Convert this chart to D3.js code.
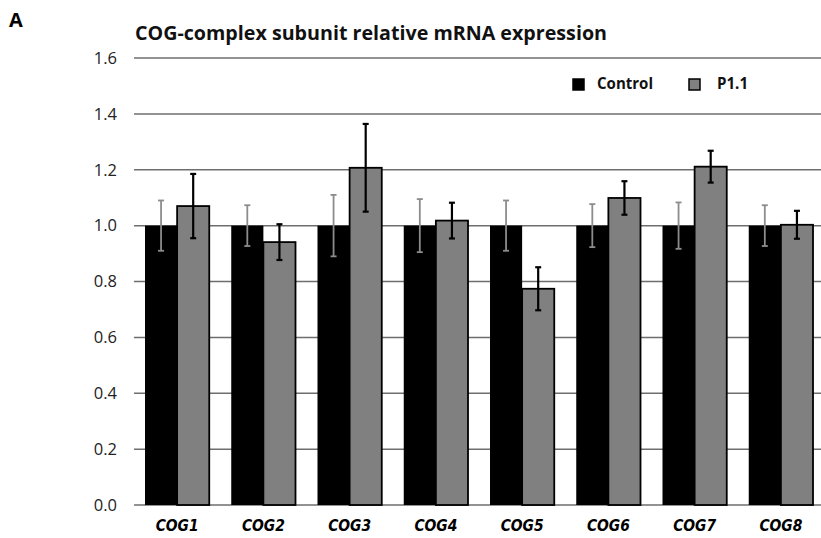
<!DOCTYPE html>
<html>
<head>
<meta charset="utf-8">
<script src="https://cdn.jsdelivr.net/npm/d3@7"></script>
<style>
  body { margin: 0; background: #fff; }
  svg { display: block; }
</style>
</head>
<body>
<div id="chart"></div>
<script>
// Data
const genes = ['COG1', 'COG2', 'COG3', 'COG4', 'COG5', 'COG6', 'COG7', 'COG8'];
const series = ['Control', 'P1.1'];
const controlValues = [1, 1, 1, 1, 1, 1, 1, 1];
const controlErrors = [0.09, 0.073, 0.11, 0.095, 0.09, 0.077, 0.083, 0.073];
const p11Values = [1.07, 0.941, 1.207, 1.018, 0.774, 1.099, 1.211, 1.003];
const p11Errors = [0.115, 0.064, 0.157, 0.064, 0.077, 0.06, 0.057, 0.05];
const yTicks = [0, 0.2, 0.4, 0.6, 0.8, 1.0, 1.2, 1.4, 1.6];

const width = 821,
	height = 538,
	margin = {left: 134, right: -3, top: 58, bottom: 33};

const colors = {'Control': '#000000', 'P1.1': '#808080'};
const errColors = {'Control': '#8c8c8c', 'P1.1': '#000000'};

const rows = genes.map((g, i) => ({
	gene: g,
	vals: [
		{key: 'Control', value: controlValues[i], err: controlErrors[i]},
		{key: 'P1.1', value: p11Values[i], err: p11Errors[i]}
	]
}));

const svg = d3.select('#chart').append('svg')
	.attr('width', width)
	.attr('height', height);

const x0 = d3.scaleBand()
	.domain(genes)
	.range([margin.left, width - margin.right])
	.paddingInner(0.255)
	.paddingOuter(0.1275);

const x1 = d3.scaleBand()
	.domain(series)
	.range([0, x0.bandwidth()]);

const y = d3.scaleLinear()
	.domain([0, 1.6])
	.range([height - margin.bottom, margin.top]);

// Panel letter + title
svg.append('text')
	.attr('x', 9).attr('y', 27)
	.style('font-family', 'Open Sans').style('font-weight', 'bold').style('font-size', '20px')
	.text('A');

svg.append('text')
	.attr('x', 135).attr('y', 40)
	.attr('textLength', 472)
	.attr('lengthAdjust', 'spacingAndGlyphs')
	.style('font-family', 'Open Sans').style('font-weight', 'bold').style('font-size', '19.5px')
	.style('fill', '#111')
	.text('COG-complex subunit relative mRNA expression');

// Gridlines (horizontal, gray)
svg.append('g')
	.selectAll('line')
	.data(yTicks)
	.join('line')
	.attr('x1', margin.left).attr('x2', width)
	.attr('y1', d => y(d)).attr('y2', d => y(d))
	.style('stroke', '#6e6e6e')
	.style('stroke-width', 1.5);

// Y axis labels
const yAxis = d3.axisLeft(y)
	.tickValues(yTicks)
	.tickFormat(d3.format('.1f'))
	.tickSize(0)
	.tickPadding(17);

const ya = svg.append('g')
	.attr('transform', 'translate(' + margin.left + ',0)')
	.call(yAxis);
ya.select('.domain').remove();
ya.selectAll('text')
	.style('font-family', 'Open Sans')
	.style('font-size', '16.5px')
	.style('fill', '#222');

// Bars
const groups = svg.append('g')
	.selectAll('g')
	.data(rows)
	.join('g')
	.attr('transform', d => 'translate(' + x0(d.gene) + ',0)');

groups.selectAll('rect')
	.data(d => d.vals)
	.join('rect')
	.attr('x', d => x1(d.key))
	.attr('y', d => y(d.value))
	.attr('width', x1.bandwidth())
	.attr('height', d => y(0) - y(d.value))
	.style('fill', d => colors[d.key])
	.style('stroke', '#000')
	.style('stroke-width', d => d.key === 'P1.1' ? 1.8 : 0);

// Error bars
const capW = 3;
const eb = groups.selectAll('g.err')
	.data(d => d.vals)
	.join('g')
	.attr('class', 'err')
	.attr('transform', d => 'translate(' + (x1(d.key) + x1.bandwidth() / 2) + ',0)')
	.style('stroke', d => errColors[d.key])
	.style('stroke-width', d => d.key === 'P1.1' ? 2.2 : 1.8);

eb.append('line')
	.attr('x1', 0).attr('x2', 0)
	.attr('y1', d => y(d.value + d.err))
	.attr('y2', d => y(d.value - d.err));
eb.append('line')
	.attr('x1', -capW).attr('x2', capW)
	.attr('y1', d => y(d.value + d.err))
	.attr('y2', d => y(d.value + d.err));
eb.append('line')
	.attr('x1', -capW).attr('x2', capW)
	.attr('y1', d => y(d.value - d.err))
	.attr('y2', d => y(d.value - d.err));

// X axis labels
const xAxis = d3.axisBottom(x0).tickSize(0).tickPadding(15);
const xa = svg.append('g')
	.attr('transform', 'translate(0,' + y(0) + ')')
	.call(xAxis);
xa.select('.domain').remove();
xa.selectAll('text')
	.attr('textLength', 43)
	.attr('lengthAdjust', 'spacingAndGlyphs')
	.style('font-family', 'DejaVu Sans')
	.style('font-weight', 'bold')
	.style('font-style', 'italic')
	.style('font-size', '16px')
	.style('fill', '#000');

// Legend
const legend = svg.append('g');
const legendItems = [
	{key: 'Control', x: 573, tx: 597, w: 56},
	{key: 'P1.1', x: 689, tx: 717, w: 31}
];
legend.selectAll('rect')
	.data(legendItems)
	.join('rect')
	.attr('x', d => d.x).attr('y', 79)
	.attr('width', 11).attr('height', 11)
	.style('fill', d => colors[d.key])
	.style('stroke', '#000')
	.style('stroke-width', 1.5);
legend.selectAll('text')
	.data(legendItems)
	.join('text')
	.attr('x', d => d.tx).attr('y', 89)
	.attr('textLength', d => d.w)
	.attr('lengthAdjust', 'spacingAndGlyphs')
	.style('font-family', 'Open Sans')
	.style('font-weight', 'bold')
	.style('font-size', '16px')
	.style('fill', '#111')
	.text(d => d.key);
</script>
</body>
</html>
